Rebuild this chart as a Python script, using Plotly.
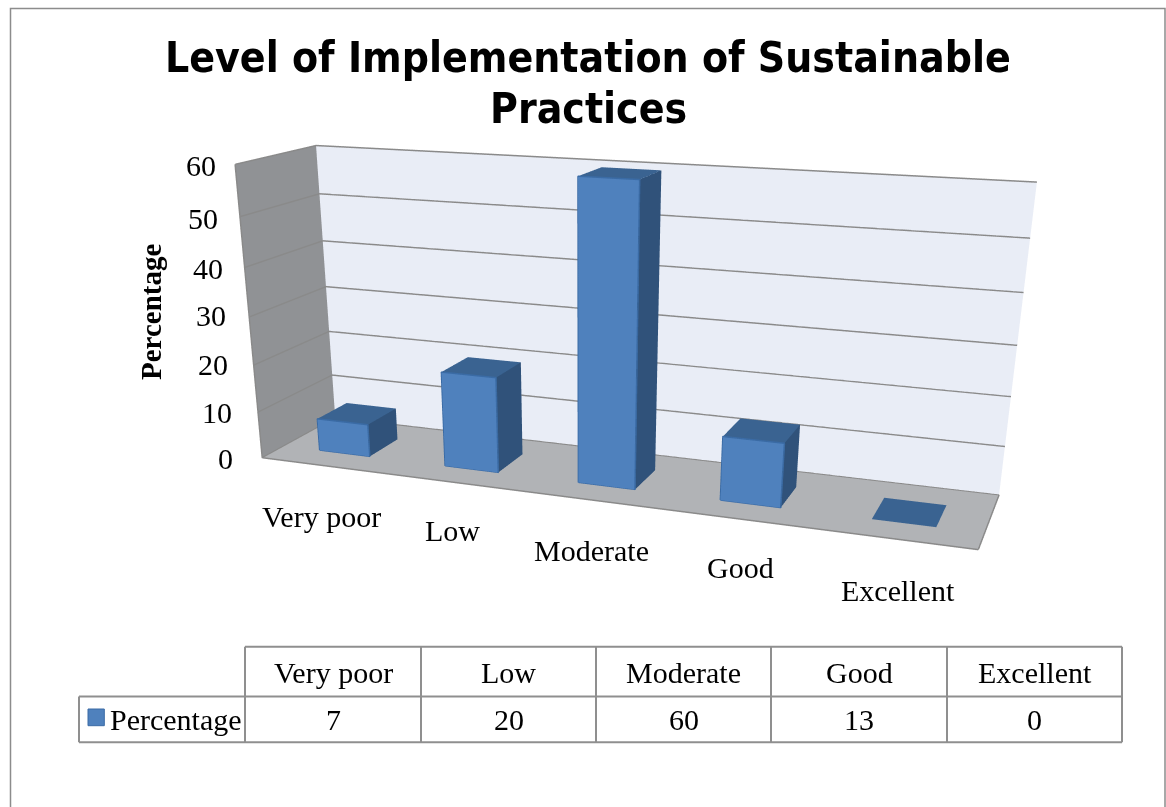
import plotly.graph_objects as go

# canvas: the 3D view's lens depends on the figure height, so the figure runs past the window bottom
W, H = 1166, 1250

categories = ["Very poor", "Low", "Moderate", "Good", "Excellent"]
values = [7, 20, 60, 13, 0]
z_ticks = [0, 10, 20, 30, 40, 50, 60]
series_name = "Percentage"
title_lines = ["Level of Implementation of Sustainable", "Practices"]

# label nudges in pixels
tick_dx = [-27, -24, -24, -21.5, -20, -20, -17]
tick_dy = [-1, 0, 1, 1, -1, -2, -1]
label_dx = [-2, -1, 0, 2, 3]
label_dy = [-51, -48, -51, -49, -51]

# data table grid in pixels
col_edges = [245, 421, 596, 771, 947, 1122]
row_edges = [646.7, 696.5, 742.3]

BAR_HALF = 0.2032
BAR_Y0, BAR_Y1 = 0.2808, 0.6903
FRONT, SIDE, TOP, EDGE = "#4F81BD", "#30527A", "#3A6391", "#3A6BA5"
GRID = "#8A8A8A"
TABLE_LINE = "#8F8F8F"
SERIF = "Liberation Serif"


def px(x):
    return x / W


def py(y):
    return 1 - y / H


xs, ys, zs, ii, jj, kk, fc = [], [], [], [], [], [], []
ex, ey, ez = [], [], []
for n, v in enumerate(values):
    b = len(xs)
    xa, xb = n + .5 - BAR_HALF, n + .5 + BAR_HALF
    corners = [(xa, BAR_Y0, 0), (xb, BAR_Y0, 0), (xb, BAR_Y1, 0), (xa, BAR_Y1, 0),
               (xa, BAR_Y0, v), (xb, BAR_Y0, v), (xb, BAR_Y1, v), (xa, BAR_Y1, v)]
    for (x, y, z) in corners:
        xs.append(x)
        ys.append(y)
        zs.append(z)
    for tri, col in [((0, 1, 5), FRONT), ((0, 5, 4), FRONT), ((1, 2, 6), SIDE), ((1, 6, 5), SIDE),
                     ((4, 5, 6), TOP), ((4, 6, 7), TOP)]:
        ii.append(b + tri[0])
        jj.append(b + tri[1])
        kk.append(b + tri[2])
        fc.append(col)
    # outline of the front face
    if v > 0:
        for k in [0, 1, 5, 4, 0]:
            ex.append(corners[k][0])
            ey.append(corners[k][1])
            ez.append(corners[k][2])
        ex.append(None)
        ey.append(None)
        ez.append(None)

fig = go.Figure()
fig.add_trace(go.Mesh3d(x=xs, y=ys, z=zs, i=ii, j=jj, k=kk, facecolor=fc, flatshading=True,
                        lighting=dict(ambient=1, diffuse=0, specular=0, fresnel=0), hoverinfo="skip"))
fig.add_trace(go.Scatter3d(x=ex, y=ey, z=ez, mode="lines", line=dict(color=EDGE, width=3),
                           hoverinfo="skip", showlegend=False))

text_font = dict(family=SERIF, size=30, color="black")

scene_notes = [dict(x=0, y=0, z=t, text=str(t), showarrow=False, xanchor="right", yanchor="middle",
                    xshift=tick_dx[n], yshift=tick_dy[n], font=text_font) for n, t in enumerate(z_ticks)]
scene_notes += [dict(x=n + .5, y=0, z=0, text=c, showarrow=False, xanchor="center", yanchor="middle",
                     xshift=label_dx[n], yshift=label_dy[n], font=text_font) for n, c in enumerate(categories)]

notes = []
for line, y in zip(title_lines, [58, 108]):
    notes.append(dict(x=px(588), y=py(y), xref="paper", yref="paper", showarrow=False, xanchor="center",
                      yanchor="middle", text=f"<b>{line}</b>",
                      font=dict(family="DejaVu Sans Condensed", size=42.3, color="black")))
notes.append(dict(x=px(151), y=py(312), xref="paper", yref="paper", showarrow=False, textangle=-90,
                  xanchor="center", yanchor="middle", text=f"<b>{series_name}</b>",
                  font=dict(family=SERIF, size=29, color="black")))

# data table under the plot
shapes = [dict(type="rect", xref="paper", yref="paper", x0=px(10.5), x1=px(1165), y0=py(8.5), y1=py(H),
               line=dict(color="#8C8C8C", width=1.5))]
table_line = dict(color=TABLE_LINE, width=2)
for y in row_edges:
    x_start = col_edges[0] if y == row_edges[0] else 79
    shapes.append(dict(type="line", xref="paper", yref="paper", x0=px(x_start), x1=px(col_edges[-1]),
                       y0=py(y), y1=py(y), line=table_line))
for x in col_edges:
    shapes.append(dict(type="line", xref="paper", yref="paper", x0=px(x), x1=px(x),
                       y0=py(row_edges[0]), y1=py(row_edges[2]), line=table_line))
shapes.append(dict(type="line", xref="paper", yref="paper", x0=px(79), x1=px(79),
                   y0=py(row_edges[1]), y1=py(row_edges[2]), line=table_line))
shapes.append(dict(type="rect", xref="paper", yref="paper", x0=px(88), x1=px(104.3), y0=py(725.7), y1=py(709),
                   fillcolor=FRONT, line=dict(color=EDGE, width=1)))

for n, c in enumerate(categories):
    cx = (col_edges[n] + col_edges[n + 1]) / 2
    notes.append(dict(x=px(cx), y=py(672), xref="paper", yref="paper", showarrow=False, xanchor="center",
                      yanchor="middle", text=c, font=text_font))
    notes.append(dict(x=px(cx), y=py(719), xref="paper", yref="paper", showarrow=False, xanchor="center",
                      yanchor="middle", text=str(values[n]), font=text_font))
notes.append(dict(x=px(108), y=py(719), xref="paper", yref="paper", showarrow=False, xanchor="left",
                  yanchor="middle", text=series_name, font=text_font))

axis = dict(showgrid=False, zeroline=False, showticklabels=False, title="", showspikes=False, ticks="",
            showline=True, linecolor=GRID, linewidth=3)
fig.update_layout(
    width=W, height=H, margin=dict(l=0, r=0, t=0, b=0), paper_bgcolor="white", showlegend=False,
    shapes=shapes, annotations=notes,
    scene=dict(
        domain=dict(x=[0, 1], y=[0, 1]), aspectmode="manual", aspectratio=dict(x=2.4815, y=0.5222, z=1),
        camera=dict(eye=dict(x=1.6243, y=-4.6253, z=1.1742), center=dict(x=0.7122, y=-2.2172, z=0),
                    up=dict(x=0.0012, y=0, z=1)),
        hovermode=False, annotations=scene_notes,
        xaxis=dict(axis, range=[0, 5], showbackground=True, backgroundcolor="#909295"),
        yaxis=dict(axis, range=[0, 1], showbackground=True, backgroundcolor="#E9EDF6"),
        zaxis=dict(axis, range=[0, 60], showbackground=True, backgroundcolor="#B1B3B6", showgrid=True,
                   gridcolor=GRID, gridwidth=3, tickvals=z_ticks),
    ),
)
fig.write_html("out.html", config=dict(displayModeBar=False),
               post_script="document.body.style.margin='0';document.documentElement.style.overflow='hidden';")
